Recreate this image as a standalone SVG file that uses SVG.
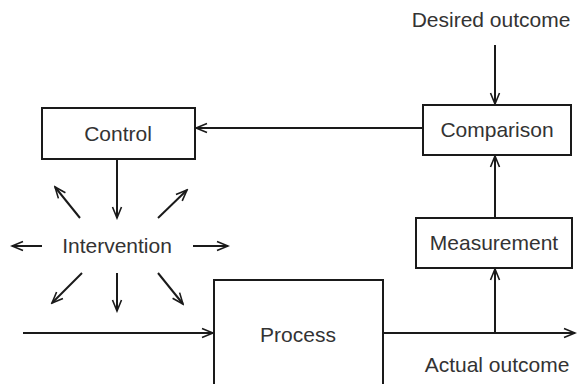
<svg xmlns="http://www.w3.org/2000/svg" width="578" height="384" viewBox="0 0 578 384">
  <style>
    .box { fill: #ffffff; stroke: #1a1a1a; stroke-width: 2; }
    .lbl { font-family: "Liberation Sans", Arial, sans-serif; font-size: 21px; fill: #333333; text-anchor: middle; }
    .edge { fill: none; stroke: #1a1a1a; stroke-width: 2; marker-end: url(#arrow); }
  </style>
  <defs>
    <marker id="arrow" markerUnits="userSpaceOnUse" markerWidth="14" markerHeight="12" viewBox="-12 -6 14 12" refX="0" refY="0" orient="auto">
      <path d="M-11,-4.5 L0,0 L-11,4.5" fill="none" stroke="#1a1a1a" stroke-width="1.6"/>
    </marker>
  </defs>
  <rect width="578" height="384" fill="#ffffff"/>

  <g id="connectors">
    <!-- desired outcome into comparison -->
    <line class="edge" x1="495" y1="45" x2="495" y2="104"/>
    <!-- comparison to control -->
    <line class="edge" x1="423" y1="128" x2="196" y2="128"/>
    <!-- measurement up to comparison -->
    <line class="edge" x1="495" y1="218" x2="495" y2="156"/>
    <!-- outcome tap up to measurement -->
    <line class="edge" x1="495" y1="333" x2="495" y2="269"/>
    <!-- process output -->
    <line class="edge" x1="383" y1="333" x2="575" y2="333"/>
    <!-- process input -->
    <line class="edge" x1="23" y1="333" x2="213" y2="333"/>
    <!-- control down to intervention -->
    <line class="edge" x1="117" y1="159" x2="117" y2="218"/>
    <!-- intervention spread -->
    <line class="edge" x1="80" y1="218" x2="55" y2="187"/>
    <line class="edge" x1="158" y1="218" x2="187" y2="190"/>
    <line class="edge" x1="42" y1="246" x2="12" y2="246"/>
    <line class="edge" x1="193" y1="246" x2="228" y2="246"/>
    <line class="edge" x1="82" y1="273" x2="52" y2="303"/>
    <line class="edge" x1="117" y1="273" x2="117" y2="311"/>
    <line class="edge" x1="158" y1="273" x2="183" y2="304"/>
  </g>

  <g id="control">
    <rect class="box" x="42" y="108" width="153" height="51"/>
    <text class="lbl" x="118" y="141">Control</text>
  </g>

  <g id="comparison">
    <rect class="box" x="423" y="105" width="148" height="50"/>
    <text class="lbl" x="497" y="137">Comparison</text>
  </g>

  <g id="measurement">
    <rect class="box" x="416" y="218" width="156" height="50"/>
    <text class="lbl" x="494" y="250">Measurement</text>
  </g>

  <g id="process">
    <rect class="box" x="214" y="280" width="169" height="120"/>
    <text class="lbl" x="298" y="342">Process</text>
  </g>

  <g id="intervention">
    <text class="lbl" x="117" y="253">Intervention</text>
  </g>

  <g id="desired-outcome">
    <text class="lbl" x="491" y="27">Desired outcome</text>
  </g>

  <g id="actual-outcome">
    <text class="lbl" x="497" y="372">Actual outcome</text>
  </g>
</svg>
